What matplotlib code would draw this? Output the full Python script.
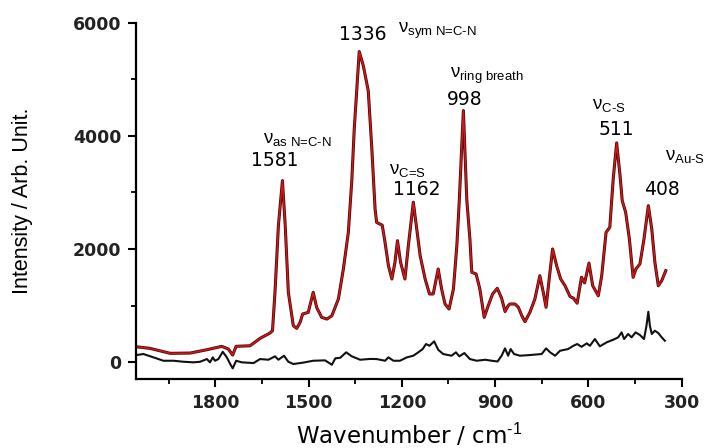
import numpy as np
import matplotlib
matplotlib.use('Agg')
import matplotlib.pyplot as plt
import matplotlib.patheffects as pe
from matplotlib.ticker import MultipleLocator

plt.rcParams['mathtext.fontset'] = 'custom'
plt.rcParams['mathtext.rm'] = 'Liberation Sans'
plt.rcParams['mathtext.it'] = 'Liberation Sans:italic'

# SERS spectrum (red) and reference spectrum (black)
red_wn = [2055, 2010, 1945, 1881, 1827, 1779, 1758, 1744, 1733, 1688, 1656, 1624, 1616,
          1608, 1597, 1584, 1575, 1565, 1549, 1538, 1527, 1519, 1501, 1485, 1474, 1458,
          1441, 1425, 1404, 1388, 1372, 1367, 1361, 1353, 1337, 1324, 1308, 1297, 1286,
          1281, 1270, 1263, 1254, 1243, 1232, 1222, 1214, 1204, 1190, 1179, 1163, 1152,
          1141, 1125, 1111, 1099, 1083, 1072, 1061, 1048, 1034, 1023, 1015, 1002, 991,
          981, 975, 961, 949, 935, 922, 908, 893, 879, 868, 858, 852, 836, 825, 814, 804,
          788, 772, 756, 745, 736, 726, 715, 702, 689, 675, 659, 648, 636, 622, 612, 598,
          586, 568, 557, 543, 531, 520, 509, 498, 491, 480, 468, 456, 447, 434, 421, 407,
          396, 386, 375, 364, 351]
red_int = [271, 242, 154, 159, 218, 278, 230, 124, 278, 288, 419, 513, 554,
           1233, 2412, 3209, 2412, 1233, 642, 596, 703, 850, 879, 1233, 968, 791,
           761, 819, 1115, 1646, 2295, 2708, 3200, 4124, 5492, 5244, 4802, 3828, 2708,
           2470, 2440, 2420, 2118, 1704, 1469, 1765, 2147, 1765, 1469, 2058, 2827, 2354,
           1881, 1469, 1204, 1204, 1646, 1292, 1027, 938, 1292, 2058, 2870, 4448, 2870,
           2177, 1588, 1558, 1292, 791, 996, 1204, 1304, 1130, 894, 996, 1027, 1027, 968, 819, 714,
           879, 1115, 1527, 1233, 968, 1469, 2000, 1704, 1469, 1350, 1160, 1130, 1040, 1500, 1400, 1750,
           1350, 1173, 1527, 2295, 2383, 3239, 3876, 3297, 2855, 2649, 2177, 1499, 1646, 1735, 2177, 2766,
           2354, 1765, 1350, 1439, 1616]

black_wn = [2053, 2031, 1999, 1967, 1934, 1902, 1870, 1849, 1827, 1817, 1808, 1801, 1790,
            1776, 1763, 1752, 1744, 1733, 1715, 1677, 1656, 1629, 1608, 1597, 1579, 1565,
            1549, 1517, 1485, 1447, 1425, 1414, 1398, 1379, 1361, 1334, 1302, 1281, 1254,
            1243, 1227, 1206, 1184, 1163, 1147, 1133, 1122, 1111, 1096, 1083, 1067, 1040,
            1026, 1015, 999, 981, 959, 932, 911, 892, 879, 868, 858, 850, 839, 820, 788,
            750, 736, 723, 707, 691, 665, 648, 636, 622, 605, 595, 579, 563, 541, 520, 504,
            493, 485, 472, 461, 448, 434, 421, 413, 407, 402, 396, 386, 375, 364, 354]
black_int = [124, 142, 83, 23, 23, 5, -5, 5, 53, -5, 83, 23, 53,
             182, 83, -35, -112, 23, -5, -18, 53, 41, 101, 41, 112, 5,
             -35, -10, 23, 30, -48, 65, 76, 172, 101, 41, 55, 53, 23,
             83, 23, 23, 83, 112, 172, 230, 319, 288, 366, 218, 142, 112,
             172, 101, 159, 53, 23, 41, 23, 10, 112, 242, 112, 230, 142, 112, 124,
             142, 242, 172, 112, 200, 230, 288, 319, 270, 330, 288, 407, 278, 349, 395, 437,
             525, 407, 496, 437, 525, 478, 407, 642, 890, 642, 496, 554, 513, 437, 377]

peak_labels = ['1581', '1336', '998', '1162', '511', '408']
peak_label_pos = [(1609, 3564), (1326, 5790), (997, 4641), (1153, 3052), (511, 4111), (363, 3052)]
mode_labels = [r'$\mathrm{\nu}_{\text{as N=C-N}}$', r'$\mathrm{\nu}_{\text{sym N=C-N}}$',
               r'$\mathrm{\nu}_{\text{ring breath}}$', r'$\mathrm{\nu}_{\text{C=S}}$',
               r'$\mathrm{\nu}_{\text{C-S}}$', r'$\mathrm{\nu}_{\text{Au-S}}$']
mode_label_pos = [(1648, 3961), (1212, 5861), (1045, 5057), (1241, 3405), (588, 4562), (354, 3661)]

fig = plt.figure(figsize=(7.04, 4.48), dpi=100, facecolor='w')
ax = fig.add_axes([0.1932, 0.154, 0.775, 0.795])

ax.plot(black_wn, black_int, color='#111111', lw=1.5)
ax.plot(red_wn, red_int, color='#d01818', lw=1.1,
        path_effects=[pe.Stroke(linewidth=2.2, foreground='#4a0808'), pe.Normal()])

ax.set_xlim(2055, 300)
ax.set_ylim(-300, 6000)
ax.xaxis.set_major_locator(MultipleLocator(300))
ax.xaxis.set_minor_locator(MultipleLocator(150))
ax.yaxis.set_major_locator(MultipleLocator(2000))
ax.yaxis.set_minor_locator(MultipleLocator(1000))

for s in ['top', 'right']:
    ax.spines[s].set_visible(False)
for s in ['left', 'bottom']:
    ax.spines[s].set_linewidth(1.6)
ax.tick_params(which='major', length=5.5, width=1.5, pad=5, direction='out')
ax.tick_params(which='minor', length=3.5, width=1.3, direction='out')
for lab in ax.get_xticklabels() + ax.get_yticklabels():
    lab.set_fontfamily('DejaVu Sans')
    lab.set_fontsize(12.5)
    lab.set_fontweight('bold')
    lab.set_color('#222222')

ax.set_xlabel(r'Wavenumber / cm$^{\text{-1}}$', family='DejaVu Sans', fontsize=16.5)
ax.xaxis.set_label_coords(0.5, -0.119)
ax.set_ylabel('Intensity / Arb. Unit.', family='Liberation Sans', fontsize=15.5)
ax.yaxis.set_label_coords(-0.189, 0.5)

for txt, (x, y) in zip(peak_labels, peak_label_pos):
    ax.text(x, y, txt, ha='center', va='center', family='DejaVu Sans', fontsize=13.5)
for txt, (x, y) in zip(mode_labels, mode_label_pos):
    ax.text(x, y, txt, ha='left', va='center', fontsize=13.5)

fig.savefig('out.png', dpi=100)
